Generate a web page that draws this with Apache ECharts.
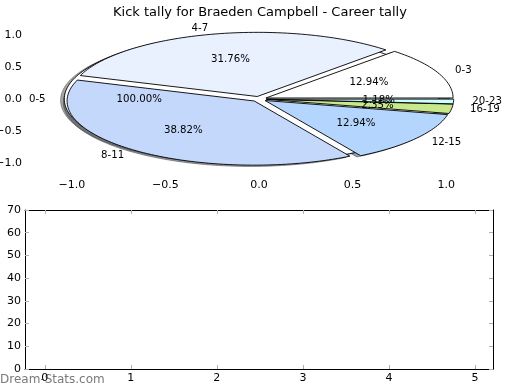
<!DOCTYPE html>
<html><head><meta charset="utf-8">
<script src="https://cdn.jsdelivr.net/npm/echarts/dist/echarts.min.js"></script>
<style>html,body{margin:0;padding:0;background:#fff}#c{width:520px;height:390px}</style>
</head><body><div id="c"></div>
<script>
// ---- data ----
const chartTitle = 'Kick tally for Braeden Campbell - Career tally';
const categories = ['0-3', '4-7', '8-11', '12-15', '16-19', '20-23'];
const kicks = [11, 27, 33, 11, 2, 1];
const backgroundCategories = ['0-5'];
const backgroundKicks = [85];
const pieTicks = [-1.0, -0.5, 0.0, 0.5, 1.0];
const barCategories = [0, 1, 2, 3, 4, 5];
const barValues = [];
const barYTicks = [0, 10, 20, 30, 40, 50, 60, 70];
const watermark = 'Dream-Stats.com';

// ---- styles ----
const sliceColors = ['#ffffff', '#e9f0fe', '#c4d8fc', '#b4d6fe', '#c9e88c', '#ccffff'];
const backgroundSliceColors = ['#ffffff'];
const EXPLODE = 0.04;
const SHADOW_DX = -0.02, SHADOW_DY = -0.02;
const FONT = 'DejaVu Sans';
const TICK_COLOR = '#b0b0b0';

function buildWedges(values) {
  const total = values.reduce((a, b) => a + b, 0);
  let acc = 0;
  return values.map((v, i) => {
    const t1 = acc / total * 360; acc += v;
    const t2 = acc / total * 360;
    return [t1, t2, v / total * 100, i];
  });
}
const mainWedges = buildWedges(kicks);
const bgWedges = buildWedges(backgroundKicks);

function shadowColor(hex) {
  const n = parseInt(hex.slice(1), 16);
  const r = Math.round(((n >> 16) & 255) * 0.3), g = Math.round(((n >> 8) & 255) * 0.3), b = Math.round((n & 255) * 0.3);
  return 'rgba(' + r + ',' + g + ',' + b + ',0.5)';
}

function wedgePoints(api, t1, t2, ox, oy) {
  const mid = (t1 + t2) / 2 * Math.PI / 180;
  const cx = EXPLODE * Math.cos(mid) + ox, cy = EXPLODE * Math.sin(mid) + oy;
  const pts = [];
  const full = (t2 - t1) >= 359.999;
  if (!full) pts.push(api.coord([cx, cy]));
  const n = Math.max(3, Math.ceil((t2 - t1) / 1.5));
  for (let k = 0; k <= n; k++) {
    const a = (t1 + (t2 - t1) * k / n) * Math.PI / 180;
    pts.push(api.coord([cx + Math.cos(a), cy + Math.sin(a)]));
  }
  return pts;
}

function makeWedgeRender(colors, shadow) {
  return function (params, api) {
    const t1 = api.value(0), t2 = api.value(1), i = api.value(3);
    const col = colors[i];
    if (shadow) {
      return {
        type: 'polygon',
        shape: { points: wedgePoints(api, t1, t2, SHADOW_DX, SHADOW_DY) },
        style: { fill: shadowColor(col), stroke: shadowColor(col), lineWidth: 1 }
      };
    }
    return {
      type: 'polygon',
      shape: { points: wedgePoints(api, t1, t2, 0, 0) },
      style: { fill: col, stroke: '#000', lineWidth: 0.9, lineJoin: 'miter' }
    };
  };
}

function makeLabelRender(names) {
  return function (params, api) {
    const t1 = api.value(0), t2 = api.value(1), pct = api.value(2), i = api.value(3);
    const mid = (t1 + t2) / 2 * Math.PI / 180;
    const cx = EXPLODE * Math.cos(mid), cy = EXPLODE * Math.sin(mid);
    const lx = cx + 1.1 * Math.cos(mid), ly = cy + 1.1 * Math.sin(mid);
    const px = cx + 0.6 * Math.cos(mid), py = cy + 0.6 * Math.sin(mid);
    const lp = api.coord([lx, ly]), pp = api.coord([px, py]);
    return {
      type: 'group',
      children: [
        { type: 'text', x: lp[0], y: lp[1], style: { text: names[i], fontSize: 10.2, fontFamily: FONT, fill: '#000', align: lx > 0 ? 'left' : 'right', verticalAlign: 'middle' } },
        { type: 'text', x: pp[0], y: pp[1], style: { text: pct.toFixed(2) + '%', fontSize: 10.2, fontFamily: FONT, fill: '#000', align: 'center', verticalAlign: 'middle' } }
      ]
    };
  };
}

const fmt = v => (v < 0 ? '\u2212' : '') + Math.abs(v).toFixed(1);
const labelStyle = { fontSize: 11, fontFamily: FONT, color: '#000' };

const pieX = (pos, show) => ({
  gridIndex: 0, type: 'value', min: -1.25, max: 1.25, position: pos,
  axisLine: { show: false },
  axisTick: { show: true, inside: true, length: 4, lineStyle: { color: TICK_COLOR }, customValues: pieTicks },
  axisLabel: Object.assign({ show: show, customValues: pieTicks, formatter: fmt, margin: 4 }, labelStyle),
  splitLine: { show: false }
});
const pieY = (pos, show) => ({
  gridIndex: 0, type: 'value', min: -1.2, max: 1.2, position: pos,
  axisLine: { show: false },
  axisTick: { show: true, inside: true, length: 4, lineStyle: { color: TICK_COLOR }, customValues: pieTicks },
  axisLabel: Object.assign({ show: show, customValues: pieTicks, formatter: fmt, margin: 3 }, labelStyle),
  splitLine: { show: false }
});
const barX = (pos, show) => ({
  gridIndex: 1, type: 'value', min: -0.23, max: 5.21, position: pos,
  axisLine: { show: true, onZero: false, lineStyle: { color: '#000', width: 1 } },
  axisTick: { show: true, inside: true, length: 4, lineStyle: { color: TICK_COLOR }, customValues: barCategories },
  axisLabel: Object.assign({ show: show, customValues: barCategories, margin: 4 }, labelStyle),
  splitLine: { show: false }
});
const barY = (pos, show) => ({
  gridIndex: 1, type: 'value', min: 0, max: 70, interval: 10, position: pos,
  axisLine: { show: true, onZero: false, lineStyle: { color: '#000', width: 1 } },
  axisTick: { show: true, inside: true, length: 4, lineStyle: { color: TICK_COLOR } },
  axisLabel: Object.assign({ show: show, margin: 4 }, labelStyle),
  splitLine: { show: false }
});

const chart = echarts.init(document.getElementById('c'), null, { renderer: 'canvas' });
chart.setOption({
  animation: false,
  backgroundColor: '#fff',
  title: { text: chartTitle, left: 'center', top: 1, textStyle: { fontSize: 13, fontWeight: 'normal', fontFamily: FONT, color: '#000' } },
  grid: [
    { left: 25, right: 27, top: 22, height: 154, containLabel: false, outerBoundsMode: 'none' },
    { left: 25, right: 27, top: 210, bottom: 21, containLabel: false, outerBoundsMode: 'none' }
  ],
  xAxis: [pieX('bottom', true), pieX('top', false), barX('bottom', true), barX('top', false)],
  yAxis: [pieY('left', true), pieY('right', false), barY('left', true), barY('right', false)],
  graphic: [{ type: 'text', left: 0, top: 374, style: { text: watermark, fontSize: 12, fontFamily: FONT, fill: '#7a7a7a' } }],
  series: [
    { type: 'custom', xAxisIndex: 0, yAxisIndex: 0, z: 1, silent: true, clip: false, encode: { x: 0, y: 1 }, data: bgWedges, renderItem: makeWedgeRender(backgroundSliceColors, true) },
    { type: 'custom', xAxisIndex: 0, yAxisIndex: 0, z: 1, silent: true, clip: false, encode: { x: 0, y: 1 }, data: mainWedges, renderItem: makeWedgeRender(sliceColors, true) },
    { type: 'custom', xAxisIndex: 0, yAxisIndex: 0, z: 2, silent: true, clip: false, encode: { x: 0, y: 1 }, data: bgWedges, renderItem: makeWedgeRender(backgroundSliceColors, false) },
    { type: 'custom', xAxisIndex: 0, yAxisIndex: 0, z: 3, silent: true, clip: false, encode: { x: 0, y: 1 }, data: mainWedges, renderItem: makeWedgeRender(sliceColors, false) },
    { type: 'custom', xAxisIndex: 0, yAxisIndex: 0, z: 4, silent: true, clip: false, encode: { x: 0, y: 1 }, data: bgWedges, renderItem: makeLabelRender(backgroundCategories) },
    { type: 'custom', xAxisIndex: 0, yAxisIndex: 0, z: 4, silent: true, clip: false, encode: { x: 0, y: 1 }, data: mainWedges, renderItem: makeLabelRender(categories) },
    { type: 'bar', xAxisIndex: 2, yAxisIndex: 2, data: barValues.map((v, i) => [barCategories[i], v]) }
  ]
});
</script>
</body></html>
